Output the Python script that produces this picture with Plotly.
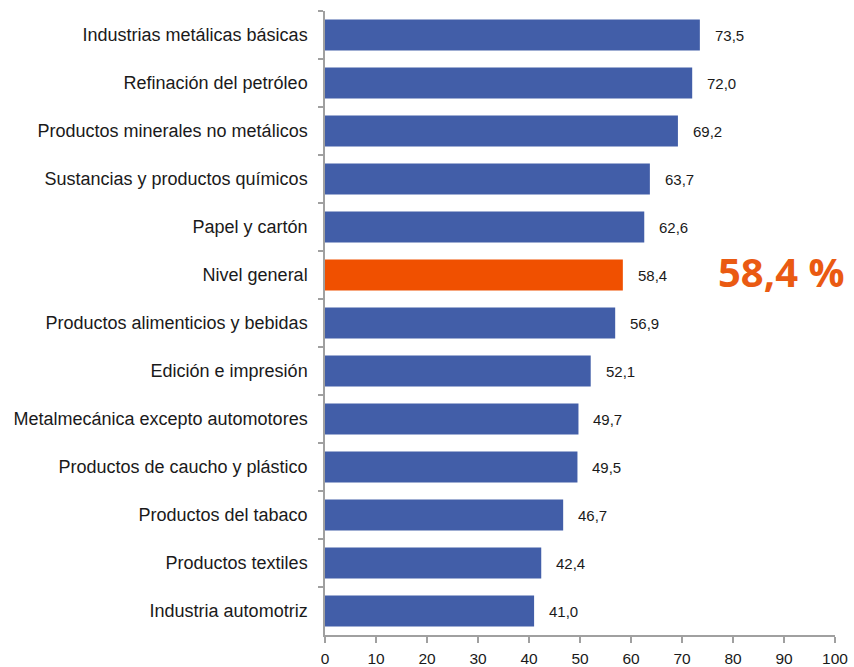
import plotly.graph_objects as go

categories = [
    "Industrias metálicas básicas",
    "Refinación del petróleo",
    "Productos minerales no metálicos",
    "Sustancias y productos químicos",
    "Papel y cartón",
    "Nivel general",
    "Productos alimenticios y bebidas",
    "Edición e impresión",
    "Metalmecánica excepto automotores",
    "Productos de caucho y plástico",
    "Productos del tabaco",
    "Productos textiles",
    "Industria automotriz",
]
values = [73.5, 72.0, 69.2, 63.7, 62.6, 58.4, 56.9, 52.1, 49.7, 49.5, 46.7, 42.4, 41.0]
highlight = "Nivel general"
x_ticks = list(range(0, 101, 10))

BLUE = "#425EA8"
ORANGE = "#F05000"

colors = [ORANGE if c == highlight else BLUE for c in categories]
labels = [f"{v:.1f}".replace(".", ",") for v in values]

fig = go.Figure()
fig.add_trace(go.Bar(
    x=values, y=categories, orientation="h",
    marker=dict(color=colors, line=dict(width=0)),
    hoverinfo="skip",
))

annotations = []
for c, v, t in zip(categories, values, labels):
    annotations.append(dict(
        x=v, y=c, text=t, showarrow=False, xanchor="left", yanchor="middle",
        xshift=13, font=dict(family="Liberation Sans, Arial", size=15, color="#1a1a1a"),
    ))
hv = values[categories.index(highlight)]
annotations.append(dict(
    x=0.894, xref="paper", y=highlight, text="<b>" + f"{hv:.1f}".replace(".", ",") + " %</b>",
    showarrow=False, xanchor="center", yanchor="middle", yshift=4,
    font=dict(family="Open Sans", size=40, color="#EA5A12"),
))

fig.update_layout(
    width=854, height=667,
    margin=dict(l=325, r=19, t=11, b=32, autoexpand=False),
    paper_bgcolor="white", plot_bgcolor="white",
    bargap=0.35,
    showlegend=False,
    annotations=annotations,
    xaxis=dict(
        range=[0, 100], tickvals=x_ticks, ticktext=[str(t) for t in x_ticks],
        showgrid=False, zeroline=False, automargin=False,
        showline=True, linecolor="#a0a0a0", linewidth=1.5,
        ticks="outside", ticklen=6, tickcolor="#a0a0a0", tickwidth=1.5,
        tickfont=dict(family="Liberation Sans, Arial", size=15.5, color="#1a1a1a"),
        ticklabelstandoff=3,
    ),
    yaxis=dict(
        categoryorder="array", categoryarray=categories, autorange="reversed",
        showgrid=False, zeroline=False, automargin=False,
        showline=True, linecolor="#a0a0a0", linewidth=1.5,
        ticks="outside", ticklen=5, tickcolor="#a0a0a0", tickwidth=1.5,
        tickson="boundaries",
        tickfont=dict(family="Liberation Sans, Arial", size=18, color="#1a1a1a"),
        ticklabelstandoff=12,
    ),
)

fig.write_html(
    "out.html",
    config={"displayModeBar": False},
    post_script="document.body.style.margin='0';document.body.style.overflow='hidden';",
)
